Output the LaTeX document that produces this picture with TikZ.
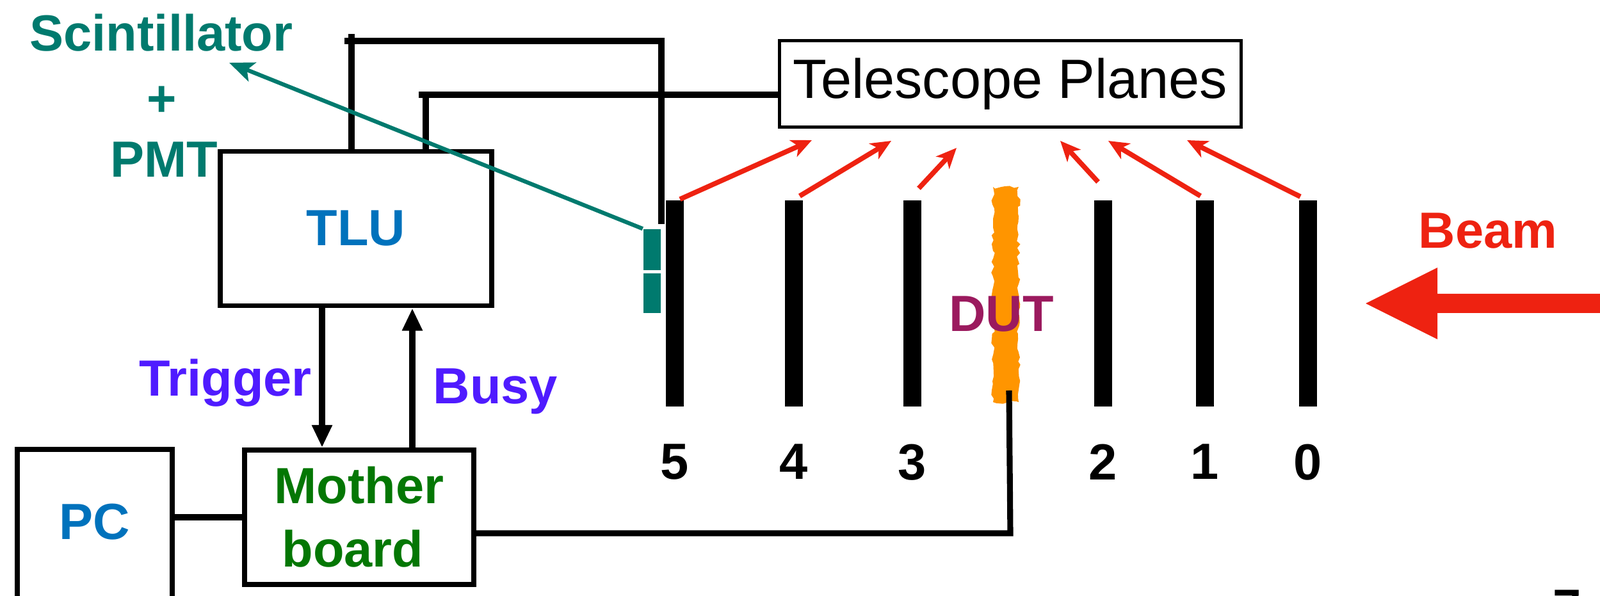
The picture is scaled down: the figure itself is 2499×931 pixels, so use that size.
\documentclass[tikz,border=0pt]{standalone}
\usepackage{fontspec}
\setmainfont{Liberation Sans}
\usepackage{tikz}
\usetikzlibrary{arrows.meta,positioning,calc,decorations.pathmorphing}
\definecolor{Teal}{HTML}{007A6E}
\definecolor{TluBlue}{HTML}{0072BC}
\definecolor{Violet}{HTML}{4F1BFF}
\definecolor{Board}{HTML}{047704}
\definecolor{DutRed}{HTML}{9B1A5E}
\definecolor{BeamRed}{HTML}{EE2211}
\definecolor{Dut}{HTML}{FF9500}

\begin{document}
\begin{tikzpicture}[x=0.01cm,y=-0.01cm,font=\fontsize{22.6pt}{28.2pt}\selectfont\bfseries,
  box/.style={draw,line width=2.2pt,inner sep=0pt},
  wire/.style={line width=2.6pt},
  plane/.style={fill=black,inner sep=0pt,minimum width=0.28cm,minimum height=3.22cm},
  hit/.style={BeamRed,line width=2.2pt,-{Stealth[length=9pt,width=8pt,inset=2.5pt]}},
  sig/.style={line width=2.6pt,-{Triangle[length=10pt,width=8.5pt]}}]
  \useasboundingbox (0,0) rectangle (2499,931);
  \node[box,minimum width=4.24cm,minimum height=2.41cm,text=TluBlue] (tlu) at (556,357) {TLU};
  \node[box,anchor=north,minimum width=2.42cm,text height=1.41cm,text depth=2.6cm,text=TluBlue] (pc) at (148,698) {PC};
  \node[box,minimum width=3.58cm,minimum height=2.1cm,align=center,text=Board] (mb) at (561,808) {Mother\\board\hspace*{0.2cm}};
  \node[draw,line width=1.3pt,minimum width=7.21cm,minimum height=1.35cm,font=\fontsize{24.6pt}{30pt}\selectfont] (tele) at (1578,131) {Telescope Planes};
  \node[Teal,anchor=base] (scl) at (252,80) {Scintillator};
  \node[Teal] (plus) at (253,158) {+};
  \node[Teal,anchor=base] (pmt) at (256,277) {PMT};
  \foreach \i/\x in {5/1054,4/1240,3/1425,2/1723,1/1882,0/2043}{
    \node[plane] (p\i) at (\x,474) {};
    \node[below=0.46cm of p\i] (n\i) {\i};
  }
  \node[fill=Dut,minimum width=0.4cm,minimum height=3.36cm,inner sep=0pt,decorate,decoration={random steps,segment length=2pt,amplitude=0.8pt}] (dut) at (1571,460) {};
  \node[DutRed,anchor=base] (dutl) at (1564,518) {DUT};
  \node[fill=Teal,minimum width=0.27cm,minimum height=0.64cm,inner sep=0pt] (sc1) at (1018,390) {};
  \node[fill=Teal,minimum width=0.27cm,minimum height=0.62cm,inner sep=0pt] (sc2) at (1018,458) {};
  \node[BeamRed,anchor=base] (beam) at (2324,388) {Beam};
  \node[anchor=base] (pg) at (2448,977) {7};
  \fill[BeamRed] (2133,474) -- (2245,418) -- (2245,459) -- (2520,459) -- (2520,489) -- (2245,489) -- (2245,530) -- cycle;
  \coordinate (c1) at (549,53);
  \coordinate (c2) at (1033,64);
  \coordinate (c3) at (665,148);
  \coordinate (c4) at (1033,350);
  \draw[wire] (c1 |- tlu.north) -- (c1);
  \draw[wire] ($(c1 |- c2)+(-11,0)$) -- (c2) -- (c4);
  \draw[wire] (c3 |- tlu.north) -- (c3);
  \draw[wire] ($(c3)+(-11,0)$) -- (c3 -| tele.west);
  \coordinate (d1) at (1578,833);
  \coordinate (d2) at (1576,610);
  \draw[wire] (mb.east |- d1) -- (d1) -- (d2);
  \draw[wire] (pc.east |- mb.west) -- (mb.west);
  \coordinate (tx) at (503,0);
  \coordinate (bx) at (644,0);
  \draw[sig] (tx |- tlu.south) -- (tx |- mb.north);
  \draw[sig] (bx |- mb.north) -- (bx |- tlu.south);
  \node[Violet,anchor=base] (trg) at (352,619) {Trigger};
  \node[Violet,anchor=base] (busy) at (774,631) {Busy};
  \coordinate (tp) at (358,98);
  \draw[Teal,line width=1.8pt,-{Stealth[length=11pt,width=9pt,inset=2.5pt]}] (sc1.north west) -- (tp);
  \foreach \i/\dx/\dy/\hx/\hy in {5/8/-1/1268/219,4/9/-6/1392/220,3/10/-18/1494/231,2/-8/-28/1656/220,1/-7/-6/1731/220,0/-12/-5/1854/219}{
    \coordinate (h\i) at (\hx,\hy);
    \draw[hit] ($(p\i.north)+(\dx,\dy)$) -- (h\i);
  }
\end{tikzpicture}
\end{document}
